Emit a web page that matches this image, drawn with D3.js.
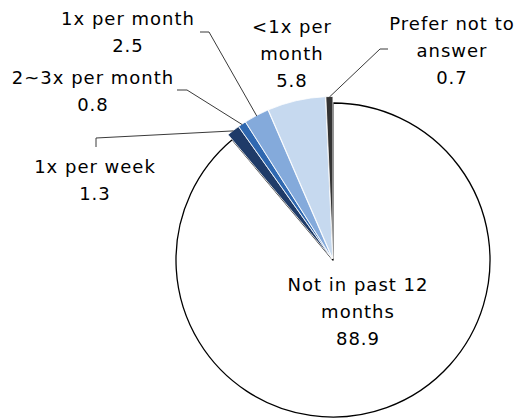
<!DOCTYPE html>
<html>
<head>
<meta charset="utf-8">
<script src="https://cdn.jsdelivr.net/npm/d3@7"></script>
<style>
  html, body { margin: 0; padding: 0; background: #fff; }
  svg { display: block; }
  text { font-family: "DejaVu Sans", sans-serif; font-size: 18px; letter-spacing: 1px; fill: #000; }
</style>
</head>
<body>
<svg id="chart" width="522" height="420"></svg>
<script>
// ---- data (clockwise from 12 o'clock) ----
const categories = ["Not in past 12 months", "1x per week", "2~3x per month", "1x per month", "<1x per month", "Prefer not to answer"];
const values = [88.9, 1.3, 0.8, 2.5, 5.8, 0.7];
const valueLabels = ["88.9", "1.3", "0.8", "2.5", "5.8", "0.7"];

// ---- style / layout ----
const colors = ["#ffffff", "#1f3b68", "#2f68b0", "#84aadb", "#c6d9ef", "#333333"];
const labelLayout = [
  { lines: ["Not in past 12", "months"], x: 358, y: 291, leader: null },
  { lines: ["1x per week"], x: 95, y: 173, leader: [[96, 147], [96, 138]] },
  { lines: ["2~3x per month"], x: 93, y: 84, leader: [[177, 90], [187, 90]] },
  { lines: ["1x per month"], x: 128, y: 25, leader: [[200, 32], [209, 32]] },
  { lines: ["<1x per", "month"], x: 292, y: 33, leader: null },
  { lines: ["Prefer not to", "answer"], x: 452, y: 30, leader: [[388, 49], [380, 49]] }
];
const cx = 333, cy = 260;
const rMain = 157, rSmall = 162, explodeSmall = 1.5;
const lineH = 27;

const svg = d3.select("#chart");
const pie = d3.pie().sort(null).value(d => d)(values);

const arcMain = d3.arc().innerRadius(0).outerRadius(rMain);
const arcSmall = d3.arc().innerRadius(0).outerRadius(rSmall);

const g = svg.append("g").attr("transform", `translate(${cx},${cy})`);

g.selectAll("path.slice")
  .data(pie)
  .join("path")
  .attr("class", "slice")
  .attr("d", (d, i) => i === 0 ? arcMain(d) : arcSmall(d))
  .attr("transform", (d, i) => {
    if (i === 0) return null;
    const a = (d.startAngle + d.endAngle) / 2;
    return `translate(${Math.sin(a) * explodeSmall},${-Math.cos(a) * explodeSmall})`;
  })
  .attr("fill", (d, i) => colors[i])
  .attr("stroke", (d, i) => i === 0 ? "#000" : "#fff")
  .attr("stroke-width", (d, i) => i === 0 ? 1.3 : 0.8)
  .attr("stroke-linejoin", "round");

// leader lines
pie.forEach((d, i) => {
  const lay = labelLayout[i];
  if (!lay.leader) return;
  const a = (d.startAngle + d.endAngle) / 2;
  const end = [cx + Math.sin(a) * (rSmall + 1), cy - Math.cos(a) * (rSmall + 1)];
  const pts = lay.leader.concat([end]);
  svg.append("path")
    .attr("d", d3.line()(pts))
    .attr("fill", "none")
    .attr("stroke", "#3a3a3a")
    .attr("stroke-width", 1);
});

// labels
pie.forEach((d, i) => {
  const lay = labelLayout[i];
  const t = svg.append("text")
    .attr("text-anchor", "middle");
  const lines = lay.lines.concat([valueLabels[i]]);
  lines.forEach((ln, k) => {
    t.append("tspan")
      .attr("x", lay.x)
      .attr("y", lay.y + k * lineH)
      .text(ln);
  });
});
</script>
</body>
</html>
